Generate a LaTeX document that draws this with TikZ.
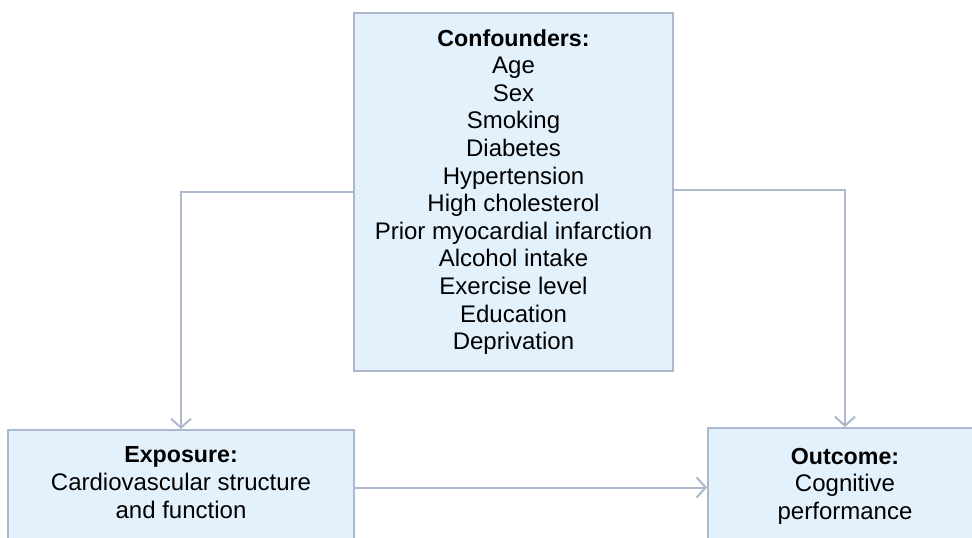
\documentclass[tikz,border=0pt]{standalone}
\usepackage{fontspec}
\setmainfont{Liberation Sans}
\usetikzlibrary{arrows.meta}

\definecolor{boxline}{RGB}{172,185,205}
\definecolor{boxfill}{RGB}{227,241,253}

\tikzset{
	box/.style={draw=boxline, fill=boxfill, line width=1pt, align=center, inner sep=0pt, font=\fontsize{12}{13.8}\selectfont},
	arr/.style={draw=boxline, line width=1pt, -{Straight Barb[length=4.5pt,width=10pt,line width=1pt]}}
}

\begin{document}
	\begin{tikzpicture}[x=0.5pt,y=-0.5pt]
		\clip (0,0) rectangle (972,537);
		\fill[white] (0,0) rectangle (972,537);
		
		\node[box, minimum width=159.5pt, minimum height=179pt] (conf) at (513.5,192) {{\fontsize{11.6}{13.8}\selectfont\textbf{Confounders:}}\\Age\\Sex\\Smoking\\Diabetes\\Hypertension\\High cholesterol\\Prior myocardial infarction\\Alcohol intake\\Exercise level\\Education\\Deprivation};
		\node[box, minimum width=173pt, minimum height=57.5pt] (expo) at (181,487.5) {{\fontsize{11.6}{13.8}\selectfont\textbf{Exposure:}}\\Cardiovascular structure\\and function\\[-8.8pt]};
		\node[box, minimum width=137pt, minimum height=58.5pt] (outc) at (845,486.5) {{\fontsize{11.6}{13.8}\selectfont\textbf{Outcome:}}\\Cognitive\\performance\\[-10.8pt]};
		
		\draw[arr] (conf.west) -| (expo.north);
		\draw[arr] ([yshift=1pt]conf.east) -| (outc.north);
		\draw[arr] (expo.east) -- (expo.east -| outc.west);
	\end{tikzpicture}
\end{document}
